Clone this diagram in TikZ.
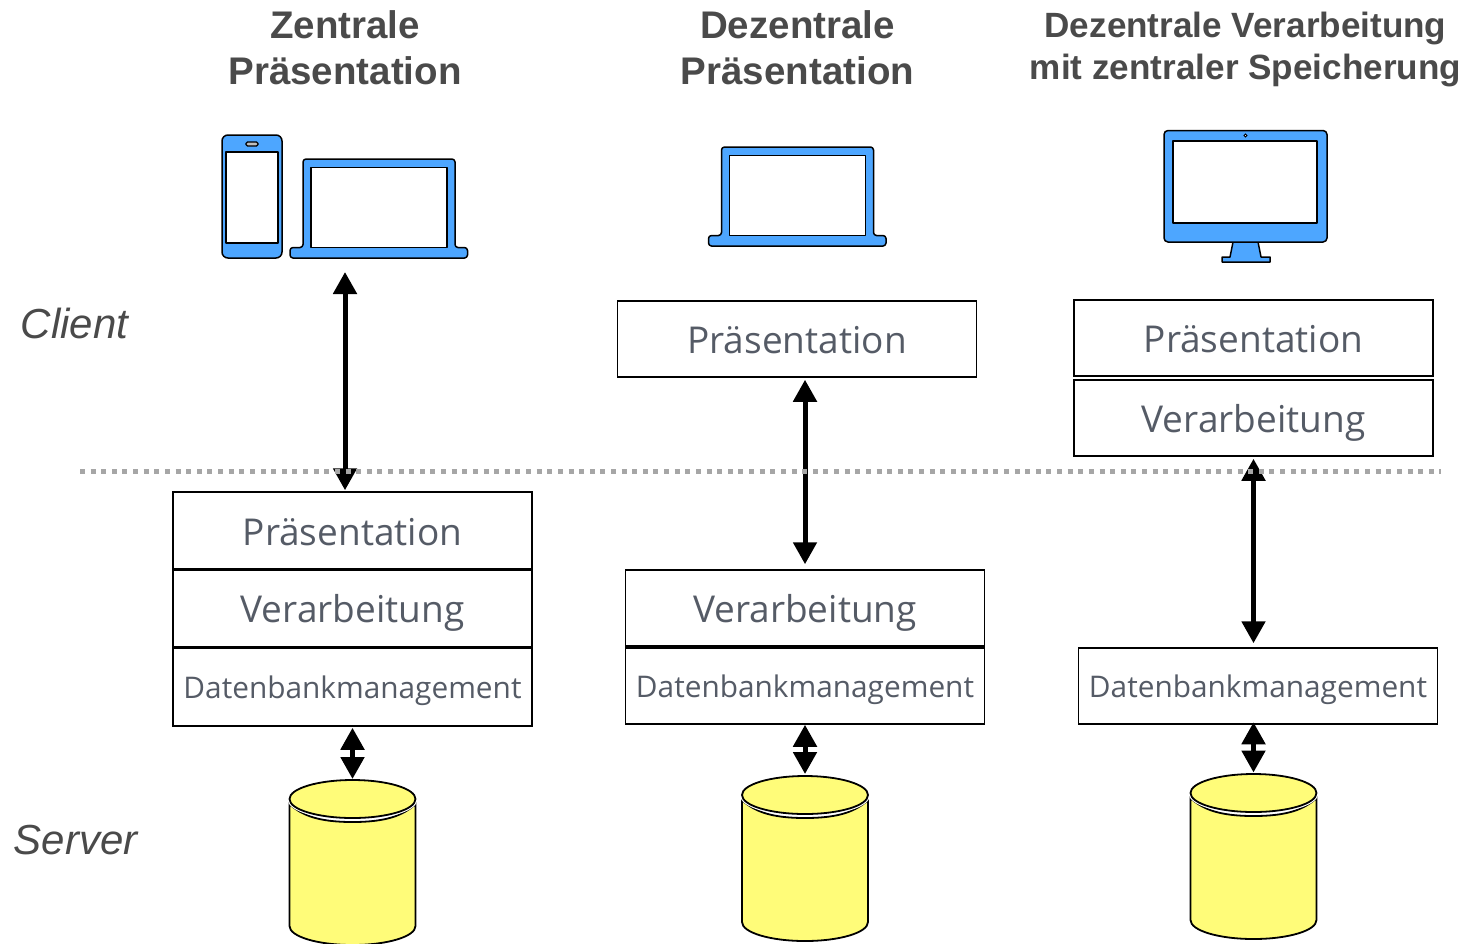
\documentclass[tikz,border=0pt]{standalone}
\usepackage{fontspec}
\setmainfont{Liberation Sans}
\newfontfamily\boxfont{Open Sans}
\usetikzlibrary{arrows.meta}
\definecolor{iconblue}{HTML}{4DA6FF}
\definecolor{dbyellow}{HTML}{FFFC79}
\definecolor{headgray}{HTML}{4A4A4A}
\definecolor{boxtext}{HTML}{555B66}
\definecolor{dotgray}{HTML}{A6A6A6}
\tikzset{
  x=1pt,y=-1pt,
  tier/.style={draw=black,line width=1.5pt,fill=white,minimum width=359pt,minimum height=77pt,inner sep=0pt,text=boxtext,text height=29pt,text depth=0pt,font=\boxfont\fontsize{37}{40}\selectfont},
  tierv/.style={tier,text height=28pt,text depth=0pt},
  tiersmall/.style={tier,text height=23pt,text depth=0pt,font=\boxfont\fontsize{29.8}{34}\selectfont},
  heading/.style={align=center,text=headgray,font=\bfseries\fontsize{38.5}{46}\selectfont},
  headingsmall/.style={align=center,text=headgray,font=\bfseries\fontsize{35.1}{42}\selectfont},
  sidelabel/.style={text=headgray,font=\itshape\fontsize{42}{46}\selectfont},
  biarrow/.style={line width=5pt,{Triangle[width=23pt,length=22pt]}-{Triangle[width=23pt,length=22pt]}},
  iconline/.style={draw=black,line width=1.5pt,line join=round},
  iconfill/.style={iconline,fill=iconblue},
  iconscreen/.style={iconline,fill=white},
  dbline/.style={draw=black,line width=1.8pt,fill=dbyellow},
}
\newcommand{\laptopicon}[2]{%
  \begin{scope}[shift={(#1,#2)}]
    \path[iconfill,rounded corners=3pt] (13,88.5) -- (13,0) -- (165,0) -- (165,88.5) -- (177.5,88.5) -- (177.5,99) -- (0,99) -- (0,88.5) -- cycle;
    \path[iconscreen] (21,8.5) rectangle (157,88.5);
  \end{scope}}
\newcommand{\dbcylinder}[3]{%
  \begin{scope}[shift={(#2,#3)}]
    \coordinate (#1) at (0,0);
    \path[dbline] (-63,24) .. controls +(12,11) and +(-35,0) .. (0,42)
      .. controls +(35,0) and +(-12,11) .. (63,24) -- (63,146)
      .. controls +(0,10.5) and +(35,0) .. (0,165)
      .. controls +(-35,0) and +(0,10.5) .. (-63,146) -- cycle;
    \draw[white,line width=4pt] (0,19) ellipse [x radius=63,y radius=19];
    \path[dbline] (0,19) ellipse [x radius=63,y radius=19];
  \end{scope}}
\begin{document}
\begin{tikzpicture}
\useasboundingbox (0,0) rectangle (1461,943);
% headings
\node[heading] (h1) at (345,48) {Zentrale\\Präsentation};
\node[heading] (h2) at (797.5,48) {Dezentrale\\Präsentation};
\node[headingsmall] (h3) at (1245.5,49) {Dezentrale Verarbeitung\\mit zentraler Speicherung};
\node[sidelabel] (client) at (74.5,323) {Client};
\node[sidelabel] (server) at (75.5,840) {Server};
% icons
\path[iconfill,rounded corners=6pt] (222,135) rectangle (282,258);
\path[iconscreen] (226,152) rectangle (278,243);
\path[draw=black,line width=1.2pt,fill=lightgray,rounded corners=1.5pt] (246,142) rectangle (258,146);
\laptopicon{290}{159}
\laptopicon{708.5}{147}
\path[iconfill] (1233,242) -- (1230,257) -- (1222,257) -- (1222,262) -- (1270,262) -- (1270,257) -- (1261,257) -- (1258,242) -- cycle;
\path[iconfill,rounded corners=4pt] (1164,130.5) rectangle (1327,242);
\path[iconscreen] (1173,141) rectangle (1317,223);
\path[draw=black,line width=1pt,fill=white] (1245.5,135.5) circle [radius=1.5];
\coordinate (lap1) at (345,272);
% tiers
\node[tier] (p1) at (352.5,530.5) {Präsentation};
\node[tierv] (v1) at (352.5,608.5) {Verarbeitung};
\node[tiersmall,minimum height=78pt] (d1) at (352.5,687) {Datenbankmanagement};
\node[tier,minimum height=76pt] (p2) at (797,339) {Präsentation};
\node[tierv,minimum height=76pt] (v2) at (805,608) {Verarbeitung};
\node[tiersmall,minimum height=76pt] (d2) at (805,686) {Datenbankmanagement};
\node[tier,minimum height=76pt] (p3) at (1253.5,338) {Präsentation};
\node[tierv,minimum height=76pt] (v3) at (1253.5,418) {Verarbeitung};
\node[tiersmall,minimum height=76pt] (d3) at (1258,686) {Datenbankmanagement};
% databases
\dbcylinder{db1}{352.5}{780}
\dbcylinder{db2}{805}{776}
\dbcylinder{db3}{1253.5}{774}
% connectors
\draw[biarrow,shorten >=1pt] (lap1) -- (p1.north -| lap1);
\draw[biarrow,shorten <=2pt,shorten >=5pt] (p2.south -| v2.north) -- (v2.north);
\draw[biarrow,shorten <=2pt,shorten >=4pt] (v3.south) -- (d3.north -| v3.south);
\draw[biarrow] ([yshift=-1pt]d1.south) -- ([yshift=1pt]db1);
\draw[biarrow] (d2.south) -- ([yshift=2pt]db2);
\draw[biarrow] ([yshift=2.5pt]d3.south -| db3) -- ([yshift=1.5pt]db3);
% tier boundary
\coordinate (lineL) at (80,471.5);
\coordinate (lineR) at (1441,471.5);
\draw[dotgray,line width=5pt,dash pattern=on 5pt off 5.62pt] (lineL) -- (lineR);
\end{tikzpicture}
\end{document}
